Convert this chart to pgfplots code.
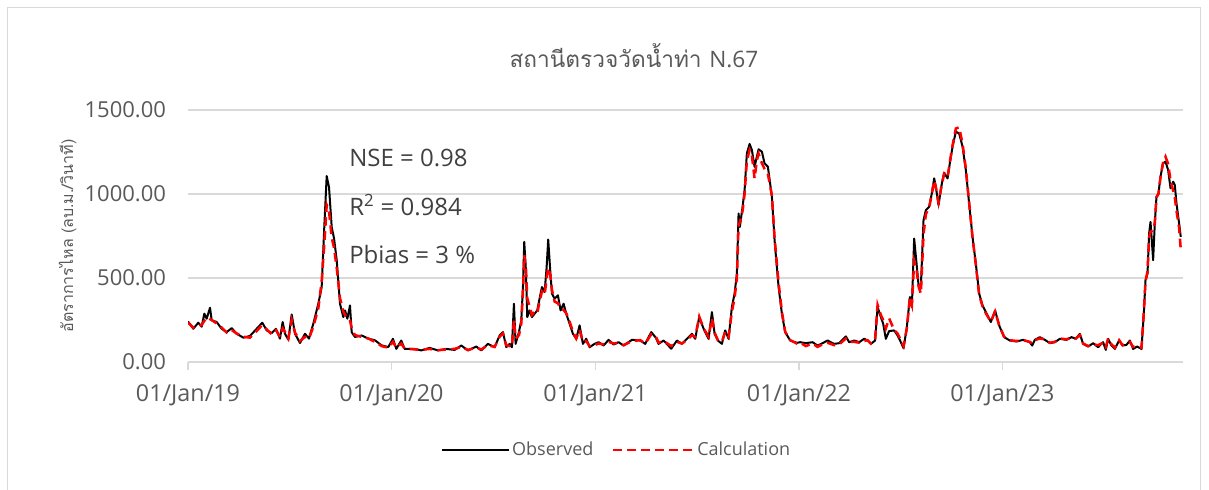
\documentclass[border=0pt]{standalone}
\usepackage{pgfplots}
\pgfplotsset{compat=1.18}
\usepackage{fontspec}
\setmainfont{Open Sans}
\newfontfamily\thaifont[Script=Thai]{Loma}
\definecolor{txt}{HTML}{595959}
\definecolor{gridc}{HTML}{D9D9D9}
\definecolor{anno}{HTML}{404040}
\pgfplotsset{
  obsleg/.style={legend image code/.code={\draw[##1] (0pt,0pt) -- (50pt,0pt);}},
  calleg/.style={legend image code/.code={\draw[##1] (0pt,0pt) -- (60pt,0pt);}},
}
\begin{document}
\begin{tikzpicture}
\path[use as bounding box] (0,0) rectangle (906.75pt,-366.75pt);
\draw[gridc, line width=0.8pt] (5.3pt,-5.3pt) rectangle (900.5pt,-380pt);
\node[text=txt, font=\fontsize{17}{20}\selectfont] at (475.5pt,-42pt) {\thaifont สถานีตรวจวัดน้ำท่า\ \rmfamily N.67};
\begin{axis}[
  at={(141pt,-271.5pt)}, anchor=south west,
  scale only axis, width=746.25pt, height=189pt,
  xmin=0, xmax=1785, ymin=0, ymax=1500,
  axis line style={draw=none},
  ytick={0,500,1000,1500},
  ytick style={draw=none},
  xtick={0,365,731,1096,1461},
  xticklabels={01/Jan/19,01/Jan/20,01/Jan/21,01/Jan/22,01/Jan/23},
  xtick pos=bottom, tick align=outside,
  xtick style={gridc, line width=0.9pt},
  major tick length=6pt,
  ymajorgrids, grid style={gridc, line width=1.1pt},
  /pgf/number format/assume math mode=true,
  yticklabel style={/pgf/number format/fixed,/pgf/number format/fixed zerofill,/pgf/number format/precision=2,/pgf/number format/1000 sep={}, text=txt, font=\fontsize{16.5}{19}\selectfont, xshift=-7pt},
  xticklabel style={text=txt, font=\fontsize{17.5}{20}\selectfont, yshift=-7.5pt},
  ylabel={\thaifont อัตราการไหล (ลบ.ม./วินาที)},
  ylabel style={at={(axis description cs:-0.121,0.5)}, anchor=center, text=txt, font=\fontsize{12}{14}\selectfont},
  legend style={at={(axis description cs:0.431,-0.349)}, anchor=center, draw=none, fill=none, text=txt, font=\fontsize{13.5}{16}\selectfont, legend columns=2, /tikz/every even column/.append style={column sep=12pt}},
]
\addplot[black, line width=1.5pt, line join=round, obsleg] coordinates {
(0,241)(9.5,198)(18.5,234)(24.5,210)(29.3,288)(33.5,258)(39.5,323)(42.5,248)(51.4,238)(60.4,198)(69.4,178)(78.4,202)(87.3,168)(99.3,145)(111.2,155)(123.2,198)(133.3,234)(141.2,188)(150.1,172)(157.8,198)(165,139)(169.8,238)(174,168)(180,133)(186,283)(192,168)(200.9,113)(209.9,168)(217,139)(224.8,228)(233.8,347)(239.8,446)(244.5,804)(248.8,1107)(253,1040)(257.8,804)(262,735)(266.8,606)(272.7,347)(278.7,267)(281.7,307)(285.9,258)(290.6,337)(293.6,178)(299.5,149)(311.5,158)(323.5,139)(335.4,129)(347.4,99)(359.3,89)
(367.7,138)(373.7,78)(382.6,128)(388.6,78)(406.6,78)(418.5,69)(433.5,84)(448.4,69)(463.4,78)(478.3,72)(490.3,98)(502.2,69)(517.2,92)(526.1,69)(538.1,108)(550.1,88)(559,158)(565,178)(571,88)(577,108)(581.1,88)(584.7,347)(587.7,108)(593.7,178)(597.9,248)(600.9,446)(603.2,715)(606.2,546)(608.6,267)(612.8,307)(617,267)(621.8,288)(626.5,307)(630.7,377)(634.9,446)(639.8,417)(643.4,566)(646.2,729)(649.8,546)(652.9,407)(657.7,377)(663.6,397)(668.4,307)(673.8,347)(678.5,288)(684.6,228)(690.5,168)(696.5,138)(702.5,218)(708.5,108)(714.4,138)(720.4,88)(729.4,108)
(736.6,118)(745.6,98)(754.5,132)(763.5,104)(772.5,118)(781.4,98)(796.4,132)(811.3,128)(820.2,108)(831,178)(839.4,144)(844.2,108)(853.2,128)(866.9,79)(877.1,128)(886,108)(895,138)(904,168)(909.9,138)(917.1,267)(925,198)(933.9,138)(939.9,297)(944.7,168)(950.6,128)(957.8,108)(963.7,188)(969.8,138)(975.7,327)(980.5,407)(984.7,526)(987.7,884)(990,804)(994.9,924)(998.5,1023)(1002.6,1242)(1007.5,1298)(1011.6,1262)(1016.4,1162)(1020.5,1222)(1023.6,1266)(1029.5,1252)(1034.3,1183)(1040.3,1162)(1047.5,983)(1052.3,725)(1059.5,446)(1065.4,288)(1071.3,178)(1080.3,128)(1092.3,114)(1098.2,118)
(1108.4,112)(1120.4,118)(1129.4,98)(1138.4,112)(1147.3,128)(1159.2,108)(1168.2,112)(1180.2,152)(1186.1,118)(1195.1,128)(1204.1,118)(1213,138)(1219.1,128)(1225,108)(1232.7,128)(1237.1,327)(1243,267)(1247.1,228)(1251.9,138)(1257.8,184)(1266.8,188)(1272.9,158)(1278.8,118)(1283.7,82)(1289.6,208)(1295,387)(1298.6,327)(1302.7,735)(1307,586)(1310.6,456)(1314.7,446)(1319.5,844)(1323.7,904)(1329.6,924)(1334.4,1004)(1338.6,1093)(1341.6,1043)(1346.4,934)(1352.4,1063)(1356.5,1127)(1362.6,1093)(1366.7,1183)(1371.6,1282)(1377.5,1371)(1383.4,1361)(1389.5,1282)(1395.4,1143)(1401.3,944)(1407.4,745)(1413.3,586)(1419.3,407)(1425.4,337)(1431.3,297)(1440.3,238)(1447.9,307)(1455.1,218)(1464.1,148)
(1474.3,128)(1486.3,122)(1498.2,132)(1510.2,118)(1514.4,98)(1519.2,132)(1528.2,148)(1537.1,132)(1546.1,112)(1555.1,118)(1564,138)(1576,132)(1585,148)(1592.7,138)(1599.9,168)(1605.8,108)(1614.8,92)(1623.8,112)(1632.7,88)(1641.7,118)(1646.5,72)(1650.7,138)(1656.7,98)(1662.7,78)(1670.4,128)(1676.5,98)(1683.6,102)(1689.6,128)(1695.5,78)(1702.7,92)(1710.5,78)(1714.7,288)(1717.7,486)(1721.3,526)(1724.2,765)(1726.7,834)(1729,725)(1731.4,606)(1734.4,825)(1737.4,983)(1741,1004)(1744.6,1103)(1749.3,1183)(1753.6,1193)(1758.3,1143)(1762.6,1034)(1767.3,1073)(1770.3,1053)(1773.3,944)(1778,825)(1781,745)
};
\addlegendentry{Observed}
\addplot[red, line width=1.9pt, dash pattern=on 6.5pt off 4pt, calleg] coordinates {
(0,235)(9.5,205)(18.5,215)(24.5,220)(29.3,245)(33.5,265)(39.5,255)(42.5,250)(51.4,230)(60.4,205)(69.4,175)(78.4,190)(87.3,170)(99.3,150)(111.2,145)(123.2,185)(133.3,220)(141.2,195)(150.1,165)(157.8,190)(165,150)(169.8,200)(174,180)(180,140)(186,250)(192,175)(200.9,125)(209.9,150)(217,140)(224.8,210)(233.8,320)(239.8,480)(244.5,700)(248.8,935)(253,900)(257.8,740)(262,680)(266.8,560)(272.7,380)(278.7,300)(281.7,280)(285.9,270)(290.6,250)(293.6,200)(299.5,160)(311.5,150)(323.5,140)(335.4,120)(347.4,95)(359.3,85)
(367.7,120)(373.7,85)(382.6,110)(388.6,80)(406.6,75)(418.5,72)(433.5,78)(448.4,70)(463.4,75)(478.3,78)(490.3,90)(502.2,72)(517.2,85)(526.1,75)(538.1,100)(550.1,90)(559,150)(565,170)(571,100)(577,95)(581.1,90)(584.7,250)(587.7,140)(593.7,160)(597.9,230)(600.9,420)(603.2,635)(606.2,560)(608.6,380)(612.8,330)(617,280)(621.8,300)(626.5,290)(630.7,360)(634.9,420)(639.8,400)(643.4,500)(646.2,560)(649.8,520)(652.9,430)(657.7,360)(663.6,350)(668.4,320)(673.8,310)(678.5,290)(684.6,240)(690.5,180)(696.5,140)(702.5,190)(708.5,120)(714.4,125)(720.4,95)(729.4,100)
(736.6,110)(745.6,105)(754.5,120)(763.5,110)(772.5,115)(781.4,100)(796.4,125)(811.3,130)(820.2,110)(831,165)(839.4,150)(844.2,115)(853.2,125)(866.9,95)(877.1,120)(886,110)(895,130)(904,160)(909.9,150)(917.1,270)(925,200)(933.9,150)(939.9,260)(944.7,175)(950.6,130)(957.8,120)(963.7,180)(969.8,150)(975.7,300)(980.5,380)(984.7,500)(987.7,820)(990,830)(994.9,900)(998.5,1000)(1002.6,1200)(1007.5,1262)(1011.6,1230)(1016.4,1093)(1020.5,1200)(1023.6,1240)(1029.5,1183)(1034.3,1150)(1040.3,1120)(1047.5,990)(1052.3,740)(1059.5,470)(1065.4,300)(1071.3,180)(1080.3,130)(1092.3,110)(1098.2,115)
(1108.4,95)(1120.4,110)(1129.4,90)(1138.4,105)(1147.3,115)(1159.2,100)(1168.2,105)(1180.2,140)(1186.1,120)(1195.1,120)(1204.1,115)(1213,125)(1219.1,130)(1225,110)(1232.7,140)(1237.1,340)(1243,280)(1247.1,250)(1251.9,200)(1257.8,260)(1266.8,190)(1272.9,170)(1278.8,130)(1283.7,95)(1289.6,200)(1295,380)(1298.6,340)(1302.7,600)(1307,550)(1310.6,450)(1314.7,407)(1319.5,760)(1323.7,880)(1329.6,920)(1334.4,1000)(1338.6,1080)(1341.6,1040)(1346.4,950)(1352.4,1060)(1356.5,1120)(1362.6,1100)(1366.7,1190)(1371.6,1290)(1377.5,1390)(1383.4,1397)(1389.5,1300)(1395.4,1150)(1401.3,950)(1407.4,740)(1413.3,580)(1419.3,400)(1425.4,330)(1431.3,290)(1440.3,240)(1447.9,300)(1455.1,220)(1464.1,150)
(1474.3,130)(1486.3,125)(1498.2,130)(1510.2,120)(1514.4,110)(1519.2,130)(1528.2,140)(1537.1,135)(1546.1,115)(1555.1,120)(1564,140)(1576,135)(1585,145)(1592.7,140)(1599.9,160)(1605.8,110)(1614.8,95)(1623.8,105)(1632.7,100)(1641.7,115)(1646.5,90)(1650.7,140)(1656.7,105)(1662.7,85)(1670.4,130)(1676.5,100)(1683.6,110)(1689.6,120)(1695.5,90)(1702.7,95)(1710.5,85)(1714.7,300)(1717.7,480)(1721.3,540)(1724.2,740)(1726.7,775)(1729,780)(1731.4,784)(1734.4,830)(1737.4,980)(1741,1000)(1744.6,1100)(1749.3,1190)(1753.6,1222)(1758.3,1180)(1762.6,1080)(1767.3,1020)(1770.3,980)(1773.3,900)(1778,800)(1781,669)
};
\addlegendentry{Calculation}
\node[anchor=west, inner sep=0pt, text=anno, font=\fontsize{18}{21}\selectfont] at (axis cs:288.8,1214) {NSE = 0.98};
\node[anchor=west, inner sep=0pt, text=anno, font=\fontsize{18}{21}\selectfont] at (axis cs:288.8,934) {R\textsuperscript{2} = 0.984};
\node[anchor=west, inner sep=0pt, text=anno, font=\fontsize{18}{21}\selectfont] at (axis cs:288.8,637) {Pbias = 3 \%};
\end{axis}
\end{tikzpicture}
\end{document}
